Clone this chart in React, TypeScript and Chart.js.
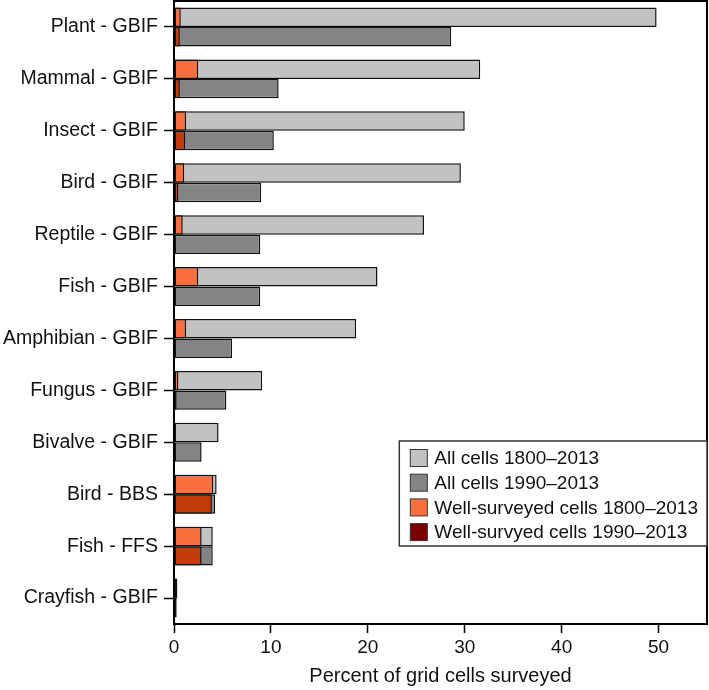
import React, { useEffect, useRef } from "react";
import { Chart, registerables } from "chart.js";

Chart.register(...registerables);

const categories = [
  "Plant - GBIF",
  "Mammal - GBIF",
  "Insect - GBIF",
  "Bird - GBIF",
  "Reptile - GBIF",
  "Fish - GBIF",
  "Amphibian - GBIF",
  "Fungus - GBIF",
  "Bivalve - GBIF",
  "Bird - BBS",
  "Fish - FFS",
  "Crayfish - GBIF",
];

const allCells1800 = [49.8, 31.6, 30.0, 29.6, 25.8, 21.0, 18.8, 9.1, 4.6, 4.4, 4.0, 0.35];
const allCells1990 = [28.6, 10.8, 10.3, 9.0, 8.9, 8.9, 6.0, 5.4, 2.85, 4.25, 4.0, 0.28];
const wellCells1800 = [0.7, 2.5, 1.25, 1.05, 0.9, 2.5, 1.25, 0.45, 0, 4.05, 2.85, 0];
const wellCells1990 = [0.6, 0.6, 1.15, 0.45, 0, 0, 0, 0.27, 0, 3.9, 2.85, 0];

const seriesLabels = [
  "All cells 1800\u20132013",
  "All cells 1990\u20132013",
  "Well-surveyed cells 1800\u20132013",
  "Well-survyed cells 1990\u20132013",
];

const xTickValues = [0, 10, 20, 30, 40, 50];
const xMax = 55;
const axisTitle = "Percent of grid cells surveyed";

const FONT = '"Liberation Sans", Arial, Helvetica, sans-serif';
const fillColors = ["#c2c2c2", "#848484", "#f9703e", "#c23c0a"];
const legendColors = ["#c2c2c2", "#848484", "#f9703e", "#7a0000"];

const zeroPadding = (s: any) => {
  s.paddingTop = 0;
  s.paddingBottom = 0;
  s.paddingLeft = 0;
  s.paddingRight = 0;
};

const frameLegendPlugin = {
  id: "frameLegend",
  afterDatasetsDraw(chart: any) {
    const { ctx, chartArea: a } = chart;
    ctx.save();
    ctx.lineWidth = 2;
    ctx.strokeStyle = "#000";
    ctx.strokeRect(a.left, a.top, a.right - a.left, a.bottom - a.top);

    ctx.font = `19px ${FONT}`;
    let maxW = 0;
    seriesLabels.forEach((t) => {
      maxW = Math.max(maxW, ctx.measureText(t).width);
    });
    const padL = 11;
    const sq = 17;
    const gap = 7;
    const padR = 9;
    const rowH = 24.7;
    const boxW = padL + sq + gap + maxW + padR;
    const boxH = 105;
    const boxRight = a.right;
    const boxLeft = boxRight - boxW;
    const boxTop = a.bottom - 78 - boxH;
    ctx.fillStyle = "#fff";
    ctx.fillRect(boxLeft, boxTop, boxW, boxH);
    ctx.lineWidth = 1.5;
    ctx.strokeStyle = "#333";
    ctx.strokeRect(boxLeft, boxTop, boxW, boxH);
    ctx.textBaseline = "middle";
    ctx.textAlign = "left";
    seriesLabels.forEach((t, i) => {
      const cy = boxTop + 17 + rowH * i;
      ctx.fillStyle = legendColors[i];
      ctx.fillRect(boxLeft + padL, cy - sq / 2, sq, sq);
      ctx.lineWidth = 1;
      ctx.strokeStyle = "#333";
      ctx.strokeRect(boxLeft + padL, cy - sq / 2, sq, sq);
      ctx.fillStyle = "#111";
      ctx.fillText(t, boxLeft + padL + sq + gap, cy + 1);
    });
    ctx.restore();
  },
};

export default function App() {
  const canvasRef = useRef<HTMLCanvasElement | null>(null);

  useEffect(() => {
    if (!canvasRef.current) return;
    const common = {
      borderColor: "#111",
      borderWidth: 1.5,
      borderSkipped: false,
      categoryPercentage: 0.75,
      barPercentage: 1.0,
    };
    const chart = new Chart(canvasRef.current, {
      type: "bar",
      data: {
        labels: categories,
        datasets: [
          { ...common, label: seriesLabels[0], data: allCells1800, backgroundColor: fillColors[0], stack: "early", order: 1 },
          { ...common, label: seriesLabels[1], data: allCells1990, backgroundColor: fillColors[1], stack: "late", order: 1 },
          { ...common, label: seriesLabels[2], data: wellCells1800, backgroundColor: fillColors[2], stack: "early", order: 0 },
          { ...common, label: seriesLabels[3], data: wellCells1990, backgroundColor: fillColors[3], stack: "late", order: 0 },
        ] as any,
      },
      options: {
        indexAxis: "y",
        responsive: false,
        animation: false,
        layout: { padding: { top: 1, right: 2, left: 0, bottom: 0 } },
        plugins: {
          legend: { display: false },
          tooltip: { enabled: false },
        },
        scales: {
          x: {
            type: "linear",
            stacked: false,
            min: 0,
            max: xMax,
            afterFit: (s: any) => {
              s.height = 66;
              zeroPadding(s);
            },
            afterBuildTicks: (s: any) => {
              s.ticks = xTickValues.map((v) => ({ value: v }));
            },
            border: { display: false },
            grid: {
              display: true,
              drawOnChartArea: false,
              drawTicks: true,
              tickLength: 9,
              tickColor: "#000",
              tickWidth: 1.5,
            },
            ticks: {
              color: "#111",
              font: { family: FONT, size: 19 },
              padding: 3,
              maxRotation: 0,
            },
            title: {
              display: true,
              text: axisTitle,
              color: "#111",
              font: { family: FONT, size: 20 },
              padding: { top: 0, bottom: 2 },
            },
          },
          y: {
            type: "category",
            afterFit: (s: any) => {
              s.width = 174;
              zeroPadding(s);
            },
            border: { display: false },
            grid: {
              display: true,
              offset: false,
              drawOnChartArea: false,
              drawTicks: true,
              tickLength: 10,
              tickColor: "#000",
              tickWidth: 1.5,
            },
            ticks: {
              color: "#111",
              font: { family: FONT, size: 19.5 },
              padding: 6,
              autoSkip: false,
            },
          },
        },
      } as any,
      plugins: [frameLegendPlugin],
    });
    return () => chart.destroy();
  }, []);

  return (
    <div style={{ position: "fixed", left: 0, top: 0, width: 709, height: 690, background: "#fff" }}>
      <canvas ref={canvasRef} width={709} height={690} style={{ display: "block" }} />
    </div>
  );
}
